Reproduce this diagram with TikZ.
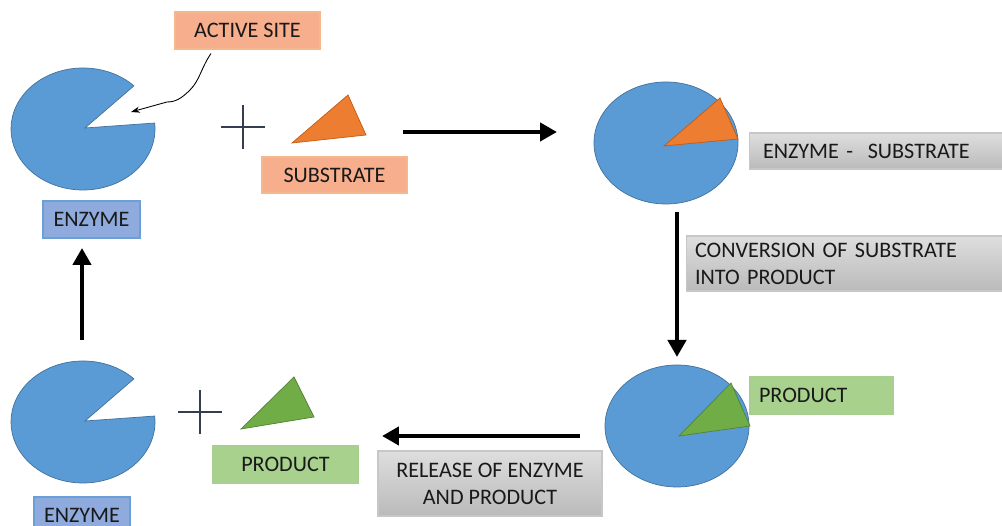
\documentclass[tikz,border=0pt]{standalone}
\usepackage{fontspec}
\setmainfont{Carlito}
\usetikzlibrary{arrows.meta, positioning, calc}
\definecolor{cblue}{HTML}{5B9BD5}
\definecolor{cbluedark}{HTML}{41719C}
\definecolor{corange}{HTML}{ED7D31}
\definecolor{corangedark}{HTML}{C55A11}
\definecolor{cgreen}{HTML}{70AD47}
\definecolor{cgreendark}{HTML}{548235}
\definecolor{lightorange}{HTML}{F7AE8C}
\definecolor{lightblue}{HTML}{8FAADC}
\definecolor{lightgreen}{HTML}{A9D18E}
\definecolor{cslate}{HTML}{333F50}
\tikzset{
  label box/.style={draw, line width=0.6pt, inner sep=0pt, font=\fontsize{12.6}{15.3}\selectfont, text=black!90},
  orange box/.style={label box, fill=lightorange, draw=corange!55},
  blue box/.style={label box, fill=lightblue, draw=cblue!70!lightblue},
  green box/.style={label box, fill=lightgreen, draw=cgreen!60},
  gray box/.style={label box, draw=black!22, top color=black!13, bottom color=black!27},
  big arrow/.style={line width=2.8pt, -{Triangle[length=0.34cm, width=0.36cm]}},
  plus sign/.style={cslate, line width=1.4pt},
}

\begin{document}
\begin{tikzpicture}[x=0.02cm, y=0.02cm]
  \useasboundingbox (0,0) rectangle (1002,526);

  % free enzymes (open mouth)
  \foreach \cy in {397,104}{
    \filldraw[fill=cblue, draw=cbluedark, thin] (85,\cy+1) -- ($(83,\cy)+(45:72 and 61)$)
      arc[start angle=45, end angle=365.6, x radius=72, y radius=61] -- cycle;
  }
  % bound complexes
  \filldraw[fill=cblue, draw=cbluedark, thin] (666,383) ellipse [x radius=72, y radius=61];
  \filldraw[fill=corange, draw=corangedark, thin] (664,380) -- (720,428) -- (738,387) -- cycle;
  \filldraw[fill=cblue, draw=cbluedark, thin] (677,100) ellipse [x radius=72, y radius=61];
  \filldraw[fill=cgreen, draw=cgreendark, thin] (679,90) -- (731,143) -- (750,100) -- cycle;

  % free substrate and product
  \filldraw[fill=corange, draw=corangedark, thin] (292,383) -- (348,431) -- (366,391) -- cycle;
  \filldraw[fill=cgreen, draw=cgreendark, thin] (241,97) -- (294,149) -- (314,109) -- cycle;

  \draw[plus sign] (221,399) -- (265,399) (243,377) -- (243,421);
  \draw[plus sign] (178,114) -- (222,114) (200,92) -- (200,136);

  \node[orange box, minimum width=2.9cm, minimum height=0.74cm] (act) at (247.5,495.5) {ACTIVE SITE};
  \node[orange box, minimum width=2.9cm, minimum height=0.72cm] (sub) at (334.5,351) {SUBSTRATE};
  \node[blue box, minimum width=1.94cm, minimum height=0.74cm] (enztop) at (91.5,306.5) {ENZYME};
  \node[blue box, minimum width=1.92cm, minimum height=0.74cm] (enzbot) at (82,10.5) {ENZYME};
  \node[gray box, text width=4.54cm, inner xsep=0.28cm, minimum height=0.72cm, align=left] (es) at (876.5,375) {ENZYME -\ \ SUBSTRATE};
  \node[gray box, text width=6.0cm, inner xsep=0.18cm, minimum height=1.1cm, align=left] (conv) at (845,262.5) {CONVERSION OF SUBSTRATE\\INTO PRODUCT};
  \node[green box, text width=2.5cm, inner xsep=0.18cm, minimum height=0.74cm, align=left] (prodr) at (821.5,130.5) {PRODUCT};
  \node[gray box, minimum width=4.48cm, minimum height=1.3cm, align=center] (rel) at (490,42.5) {RELEASE OF ENZYME\\AND PRODUCT};
  \node[green box, minimum width=2.9cm, minimum height=0.74cm] (prodl) at (285.5,61.5) {PRODUCT};

  \coordinate (bindS) at (403,394);
  \coordinate (bindE) at (557,394);
  \coordinate (convS) at (677,314);
  \coordinate (convE) at (677,169);
  \coordinate (relS) at (580,90);
  \coordinate (relE) at (382,90);
  \coordinate (backS) at (82,186);
  \coordinate (backE) at (82,278);
  \coordinate (site) at (131,414);

  \draw[big arrow] (bindS) -- (bindE);
  \draw[big arrow] (convS) -- (convE);
  \draw[big arrow] (relS) -- (relE);
  \draw[big arrow] (backS) -- (backE);

  \draw[line width=0.5pt, -{Stealth[length=5pt, width=3.5pt]}] ([xshift=-0.73cm, yshift=-0.08cm]act.south)
    .. controls (201,458) and (200,446) .. (190,436)
    .. controls (181,427) and (175,424) .. (167,424) -- (site);
\end{tikzpicture}
\end{document}
